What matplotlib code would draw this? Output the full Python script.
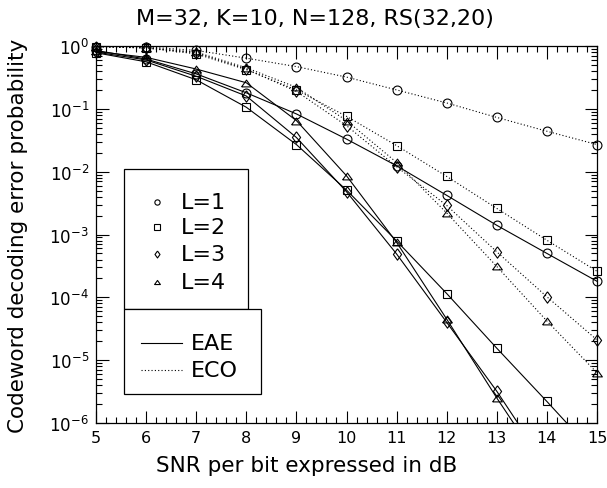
import matplotlib
matplotlib.use("Agg")
import matplotlib.pyplot as plt
import numpy as np
from matplotlib.lines import Line2D
from matplotlib.patches import Rectangle
from matplotlib.ticker import LogLocator, LogFormatterMathtext, MultipleLocator, NullFormatter

# SNR per bit (dB)
snr_db = [5, 6, 7, 8, 9, 10, 11, 12, 13, 14, 15]
list_sizes = ["L=1", "L=2", "L=3", "L=4"]

# EAE decoder (solid lines)
eae_l1 = [0.85, 0.62, 0.36, 0.18, 0.083, 0.033, 0.0124, 0.0042, 0.0014, 5.0e-4, 1.8e-4]
eae_l2 = [0.78, 0.56, 0.29, 0.106, 0.027, 0.0051, 7.9e-4, 1.15e-4, 1.55e-5, 2.2e-6, 3.0e-7]
eae_l3 = [0.80, 0.60, 0.33, 0.16, 0.035, 0.0048, 4.9e-4, 4.0e-5, 3.2e-6, 2.0e-7, 1.2e-8]
eae_l4 = [0.82, 0.66, 0.43, 0.26, 0.065, 0.0086, 7.5e-4, 4.5e-5, 2.5e-6, 1.6e-7, 1.0e-8]

# ECO decoder (dotted lines)
eco_l1 = [0.98, 0.97, 0.85, 0.64, 0.47, 0.32, 0.20, 0.124, 0.073, 0.044, 0.027]
eco_l2 = [0.98, 0.93, 0.75, 0.42, 0.20, 0.076, 0.026, 0.0084, 0.0026, 8.1e-4, 2.6e-4]
eco_l3 = [0.98, 0.93, 0.78, 0.43, 0.19, 0.054, 0.012, 0.0029, 5.3e-4, 1.02e-4, 2.1e-5]
eco_l4 = [0.98, 0.94, 0.80, 0.45, 0.22, 0.065, 0.014, 0.0022, 3.1e-4, 4.2e-5, 6.3e-6]

eae_series = [eae_l1, eae_l2, eae_l3, eae_l4]
eco_series = [eco_l1, eco_l2, eco_l3, eco_l4]

Y_MIN, Y_MAX = 1e-6, 1.0

W, H = 607, 489
plt.rcParams["font.family"] = "DejaVu Sans"
fig = plt.figure(figsize=(W / 100, H / 100), dpi=100)

def fx(px):
    return px / W

def fy(py):
    return 1 - py / H

ax = fig.add_axes([fx(96), fy(424), fx(597) - fx(96), fy(47) - fy(424)])

diamond = [(0, 1), (0.72, 0), (0, -1), (-0.72, 0), (0, 1)]
triangle = [(-1, -0.7), (1, -0.7), (0, 0.7), (-1, -0.7)]
markers = ["o", "s", diamond, triangle]
msizes = [6.4, 6.4, 8.2, 7.0]

def draw_curve(vals, ls, marker, ms):
    # connecting line, clipped to the axes
    ax.plot(snr_db, vals, ls=ls, color="black", lw=0.8, clip_on=True)
    # symbols for the points inside the plotted range, drawn over the frame
    shown = np.ma.masked_outside(np.asarray(vals, dtype=float), Y_MIN, Y_MAX)
    ax.plot(snr_db, shown, ls="none", marker=marker, ms=ms, mfc="none",
            mec="black", mew=0.8, clip_on=False, zorder=3)

for vals, m, ms in zip(eae_series, markers, msizes):
    draw_curve(vals, "-", m, ms)
for vals, m, ms in zip(eco_series, markers, msizes):
    draw_curve(vals, (0, (1, 2)), m, ms)

ax.set_yscale("log")
ax.set_xlim(5, 15)
ax.set_ylim(Y_MIN, Y_MAX)

ax.xaxis.set_major_locator(MultipleLocator(1))
ax.xaxis.set_minor_locator(MultipleLocator(0.2))
ax.yaxis.set_major_locator(LogLocator(base=10, numticks=10))
ax.yaxis.set_minor_locator(LogLocator(base=10, subs=np.arange(2, 10), numticks=20))
ax.yaxis.set_major_formatter(LogFormatterMathtext())
ax.yaxis.set_minor_formatter(NullFormatter())

ax.tick_params(which="both", direction="in", top=True, right=True, color="black", width=0.8)
ax.tick_params(which="major", length=9)
ax.tick_params(which="minor", length=4.5)
ax.tick_params(axis="x", which="major", labelsize=11.5, pad=5)
ax.tick_params(axis="y", which="major", labelsize=12, pad=5)
for sp in ax.spines.values():
    sp.set_linewidth(0.9)

fig.text(fx(315), fy(19), "M=32, K=10, N=128, RS(32,20)", fontsize=16,
         ha="center", va="center")
fig.text(fx(307), fy(466), "SNR per bit expressed in dB", fontsize=15.5,
         ha="center", va="center")
fig.text(fx(18), fy(236), "Codeword decoding error probability", fontsize=15.5,
         ha="center", va="center", rotation=90)

# Legend boxes
fig.add_artist(Rectangle((fx(123.5), fy(310)), fx(247.5) - fx(123.5), fy(169.5) - fy(310),
                         transform=fig.transFigure, fill=True, fc="white", ec="black",
                         lw=0.9, zorder=4))
fig.add_artist(Rectangle((fx(123.5), fy(395)), fx(261) - fx(123.5), fy(310) - fy(395),
                         transform=fig.transFigure, fill=True, fc="white", ec="black",
                         lw=0.9, zorder=4))

leg_rows = [203, 228, 255, 283]
leg_ms = [3.8, 3.8, 5.0, 4.2]
for label, m, ms, ry in zip(list_sizes, markers, leg_ms, leg_rows):
    fig.add_artist(Line2D([fx(157)], [fy(ry)], transform=fig.transFigure, marker=m, ms=ms,
                          mfc="none", mec="black", mew=0.8, ls="none", zorder=5))
    fig.text(fx(181), fy(ry), label, fontsize=16, ha="left", va="center", zorder=5)

for label, ls, ry in [("EAE", "-", 343.5), ("ECO", (0, (1, 2)), 371)]:
    fig.add_artist(Line2D([fx(141), fx(182)], [fy(ry), fy(ry)], transform=fig.transFigure,
                          color="black", lw=0.8, ls=ls, zorder=5))
    fig.text(fx(191), fy(ry), label, fontsize=16, ha="left", va="center", zorder=5)

fig.savefig("out.png", dpi=100)
